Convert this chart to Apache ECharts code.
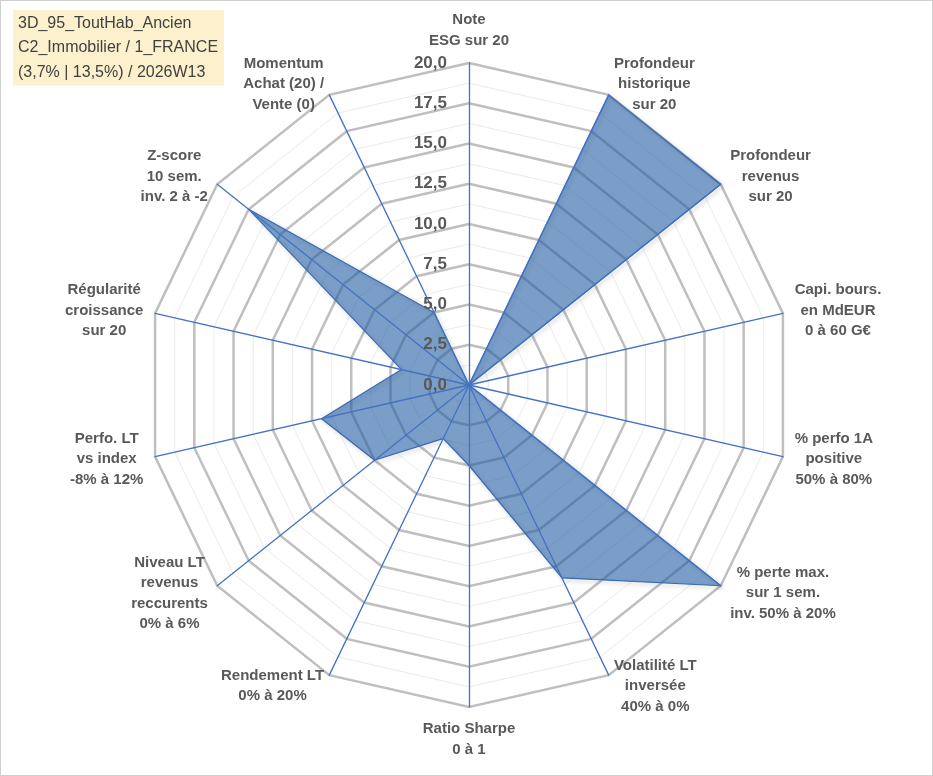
<!DOCTYPE html>
<html>
<head>
<meta charset="utf-8">
<script src="https://cdn.jsdelivr.net/npm/echarts@6/dist/echarts.min.js"></script>
<style>
  html, body { margin: 0; padding: 0; background: #ffffff; }
  #chart { position: absolute; left: 0; top: 0; width: 933px; height: 776px; }
  #frame { position: absolute; left: 0; top: 0; width: 933px; height: 776px; border: 1px solid #d0d0d0; box-sizing: border-box; pointer-events: none; }
</style>
</head>
<body>
<div id="chart"></div>
<div id="frame"></div>
<script>
// ---- data (clockwise from top, as in the reference) ----
const axisNames = [
  'Note\nESG sur 20',
  'Profondeur\nhistorique\nsur 20',
  'Profondeur\nrevenus\nsur 20',
  'Capi. bours.\nen MdEUR\n0 à 60 G€',
  '% perfo 1A\npositive\n50% à 80%',
  '% perte max.\nsur 1 sem.\ninv. 50% à 20%',
  'Volatilité LT\ninversée\n40% à 0%',
  'Ratio Sharpe\n0 à 1',
  'Rendement LT\n0% à 20%',
  'Niveau LT\nrevenus\nreccurents\n0% à 6%',
  'Perfo. LT\nvs index\n-8% à 12%',
  'Régularité\ncroissance\nsur 20',
  'Z-score\n10 sem.\ninv. 2 à -2',
  'Momentum\nAchat (20) /\nVente (0)'
];
const scoreValues = [0, 20, 20, 0, 0, 20, 13.3, 5, 3.7, 7.5, 9.4, 4.3, 17.5, 5];
const axisMax = 20;
const tickStep = 2.5;
const titleLines = ['3D_95_ToutHab_Ancien', 'C2_Immobilier / 1_FRANCE', '(3,7% | 13,5%) / 2026W13'];

// ECharts radar runs counter-clockwise: keep first axis at top, reverse the rest
function toCCW(arr) { return [arr[0]].concat(arr.slice(1).reverse()); }
const namesCCW = toCCW(axisNames);
const valuesCCW = toCCW(scoreValues);

const FONT = '"Liberation Sans", Arial, sans-serif';
const center = [469, 385];
const radius = 322;
const majorSplits = axisMax / tickStep;

const plainIndicators = namesCCW.map(n => ({ name: n, min: 0, max: axisMax }));
const labelIndicators = namesCCW.map((n, i) => {
  const ind = { name: n, min: 0, max: axisMax };
  if (i === 0) {
    ind.axisLabel = {
      show: true,
      fontFamily: FONT,
      fontSize: 17,
      fontWeight: 'bold',
      color: '#595959',
      margin: 22,
      formatter: v => v.toFixed(1).replace('.', ',')
    };
  }
  return ind;
});

const chart = echarts.init(document.getElementById('chart'), null, { renderer: 'canvas' });
chart.setOption({
  backgroundColor: '#ffffff',
  animation: false,
  title: {
    text: titleLines.join('\n'),
    left: 13,
    top: 10,
    padding: [1, 6, 1, 5],
    backgroundColor: '#fdf0cd',
    textStyle: {
      fontFamily: FONT,
      fontSize: 16,
      fontWeight: 'normal',
      color: '#404040',
      lineHeight: 24.5
    }
  },
  radar: [
    {
      center: center, radius: radius, shape: 'polygon', splitNumber: majorSplits * 2, z: 1,
      indicator: plainIndicators,
      axisName: { show: false },
      axisLine: { show: false }, axisTick: { show: false }, axisLabel: { show: false },
      splitArea: { show: false },
      splitLine: { lineStyle: { color: '#ebebeb', width: 1 } }
    },
    {
      center: center, radius: radius, shape: 'polygon', splitNumber: majorSplits, z: 1,
      indicator: plainIndicators,
      axisName: { show: false },
      axisLine: { show: false }, axisTick: { show: false }, axisLabel: { show: false },
      splitArea: { show: false },
      splitLine: { lineStyle: { color: '#bfbfbf', width: 2.5 } }
    },
    {
      center: center, radius: radius, shape: 'polygon', splitNumber: majorSplits, z: 3,
      indicator: labelIndicators,
      nameGap: 12,
      axisName: {
        show: true,
        formatter: function (name) {
          return name.split('\n').map(s => '{c|' + s + '}').join('\n');
        },
        rich: {
          c: {
            align: 'center',
            fontFamily: FONT,
            fontSize: 15,
            fontWeight: 'bold',
            color: '#595959',
            lineHeight: 20.5
          }
        }
      },
      axisLine: { show: true, lineStyle: { color: '#4472c4', width: 1.3 } },
      axisTick: { show: false },
      axisLabel: { show: false },
      splitArea: { show: false },
      splitLine: { show: false }
    }
  ],
  series: [{
    type: 'radar',
    radarIndex: 1,
    z: 2,
    symbol: 'none',
    data: [{ value: valuesCCW, name: 'Score' }],
    lineStyle: {
      color: '#4472c4', width: 1.2,
      shadowBlur: 4, shadowColor: 'rgba(0,0,0,0.3)', shadowOffsetX: 2, shadowOffsetY: 2
    },
    areaStyle: {
      color: 'rgb(33, 93, 162)',
      opacity: 0.6
    }
  }]
});
</script>
</body>
</html>
